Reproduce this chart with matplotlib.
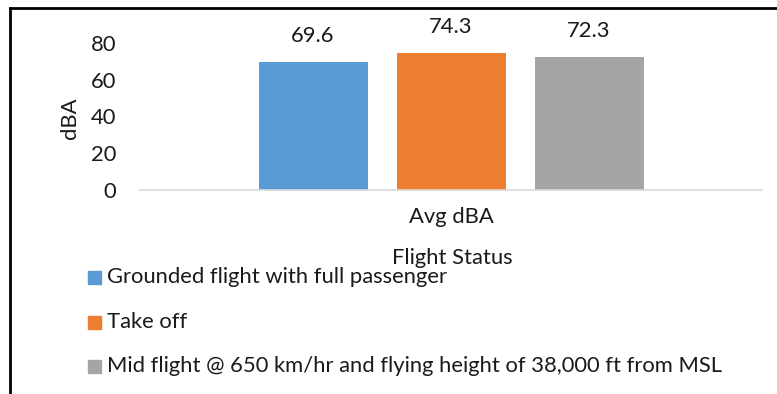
import matplotlib
matplotlib.use("Agg")
import matplotlib.pyplot as plt
from matplotlib.lines import Line2D

plt.rcParams['font.family'] = ['Lato', 'DejaVu Sans']

category = "Avg dBA"
series_names = ["Grounded flight with full passenger",
                "Take off",
                "Mid flight @ 650 km/hr and flying height of 38,000 ft from MSL"]
values = [69.6, 74.3, 72.3]
colors = ["#5B9BD5", "#ED7D31", "#A5A5A5"]
yticks = [0, 20, 40, 60, 80]

FS = 15.8
TC = '#1a1a1a'
W, H = 777, 394
fig = plt.figure(figsize=(W/100, H/100), dpi=100)

def fx(px): return px / W
def fy(py): return 1 - py / H

ax = fig.add_axes([fx(140), fy(190), fx(762) - fx(140), fy(43) - fy(190)])
bw = 109 / 622
gap = 29 / 622
offsets = [-(bw + gap), 0, (bw + gap)]
for v, c, o in zip(values, colors, offsets):
    ax.bar(o, v, width=bw, color=c)
    ax.annotate(f"{v}", xy=(o, v), xytext=(0, 16), textcoords='offset pixels',
                ha='center', va='bottom', fontsize=FS, color=TC)

ax.set_xlim(-0.5, 0.5)
ax.set_ylim(0, 80)
ax.set_yticks(yticks)
ax.set_yticklabels([str(t) for t in yticks], fontsize=FS, color=TC)
ax.set_xticks([0])
ax.set_xticklabels([category], fontsize=FS, color=TC)
ax.tick_params(axis='y', length=0, pad=17)
ax.tick_params(axis='x', length=0, pad=12)
for s in ['top', 'right', 'left']:
    ax.spines[s].set_visible(False)
ax.spines['bottom'].set_color('#D9D9D9')
ax.spines['bottom'].set_linewidth(1.2)

fig.text(fx(70), fy(118), "dBA", rotation=90, ha='center', va='center',
         fontsize=FS, color=TC)
fig.text(fx(452), fy(258), "Flight Status", ha='center', va='center',
         fontsize=FS, color=TC)

# legend
rows_y = [277, 322, 366]
for name, c, ry in zip(series_names, colors, rows_y):
    fig.patches.append(plt.Rectangle((fx(88), fy(ry + 7)), fx(13), 13 / H,
                                     transform=fig.transFigure, color=c))
    fig.text(fx(107), fy(ry), name, ha='left', va='center', fontsize=FS,
             color=TC)

# outer frame (top and left visible)
fig.add_artist(Line2D([fx(10), 1], [fy(8), fy(8)], transform=fig.transFigure,
                      color='black', linewidth=2))
fig.add_artist(Line2D([fx(10), fx(10)], [fy(8), 0], transform=fig.transFigure,
                      color='black', linewidth=2))

fig.savefig("out.png", dpi=100, facecolor='white')
